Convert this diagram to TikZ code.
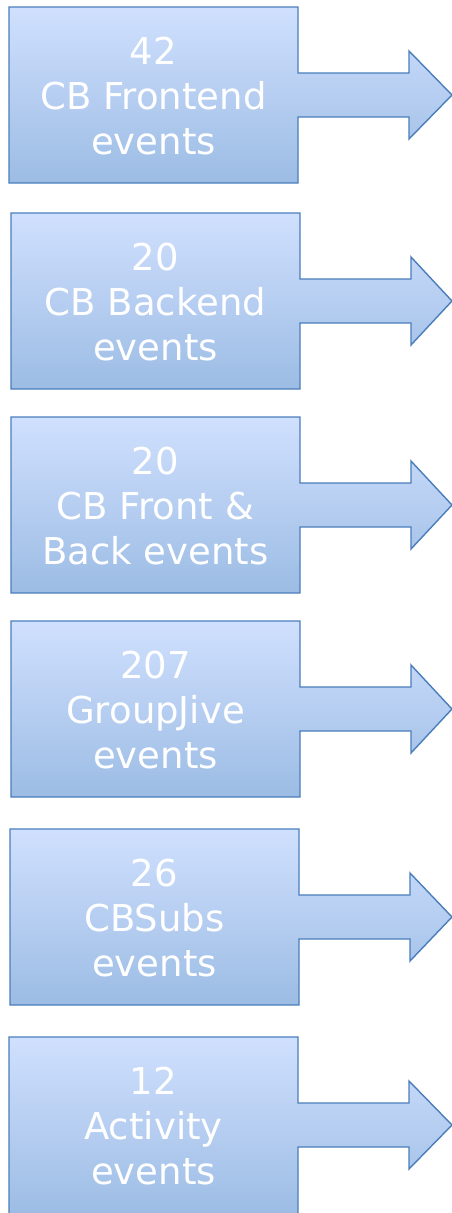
\documentclass[tikz,border=0pt]{standalone}
\usepackage{fontspec}
\setmainfont{DejaVu Sans}
\definecolor{topc}{HTML}{D0E0FE}
\definecolor{botc}{HTML}{9CBCE4}
\definecolor{edgec}{HTML}{4A7EBB}
\tikzset{
  calloutshape/.style={draw=edgec, line width=1.4pt, top color=topc, bottom color=botc, line join=miter},
  callouttext/.style={text=white, align=center, inner sep=0pt, font=\fontsize{37}{45}\selectfont}
}
\newcommand{\mycallout}[6]{%
  % #1 name, #2 left, #3 top, #4 head base x, #5 box height, #6 text
  \draw[calloutshape] (#2,#3) -- ({#2+289},#3) -- ({#2+289},{#3+66}) -- (#4,{#3+66}) -- (#4,{#3+44})
    -- (452,{#3+88}) -- (#4,{#3+132}) -- (#4,{#3+110}) -- ({#2+289},{#3+110}) -- ({#2+289},{#3+#5})
    -- (#2,{#3+#5}) -- cycle;
  \node[callouttext] (#1) at ({#2+144.5},{#3+89}) {#6};
}
\begin{document}
\begin{tikzpicture}[x=1pt,y=-1pt]
\clip (0,0) rectangle (452,1213);
\mycallout{c1}{9}{7}{409}{176}{42\\CB Frontend\\events}
\mycallout{c2}{11}{213}{411}{176}{20\\CB Backend\\events}
\mycallout{c3}{11}{417}{411}{176}{20\\CB Front \&\\Back events}
\mycallout{c4}{11}{621}{411}{176}{207\\GroupJive\\events}
\mycallout{c5}{10}{829}{410}{176}{26\\CBSubs\\events}
\mycallout{c6}{9}{1037}{409}{180}{12\\Activity\\events}
\end{tikzpicture}
\end{document}
